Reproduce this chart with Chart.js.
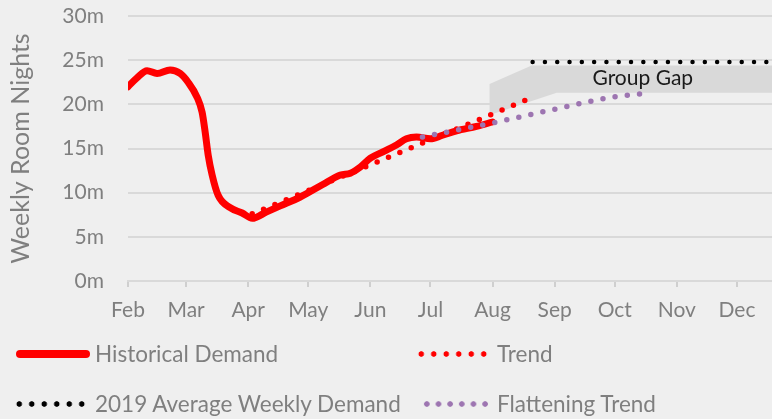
<!DOCTYPE html>
<html>
<head>
<meta charset="utf-8">
<script src="https://cdn.jsdelivr.net/npm/chart.js@4.4.1/dist/chart.umd.min.js"></script>
<style>
  html, body { margin: 0; padding: 0; }
  body { width: 772px; height: 419px; overflow: hidden; background: #efefef; font-family: Lato, sans-serif; }
  #wrap { position: relative; width: 772px; height: 419px; }
  #chart { position: absolute; left: 0; top: 0; }
  .sample { position: absolute; height: 8px; }
  .lgtext { position: absolute; height: 30px; line-height: 30px; font-size: 22.5px; color: #7f7f7f; white-space: nowrap; }
</style>
</head>
<body>
<div id="wrap">
  <canvas id="chart" width="772" height="419"></canvas>
  <div id="legend"></div>
</div>
<script>
// Weekly room nights, x = days since 1 Feb, y = millions

const monthLabels = ['Feb', 'Mar', 'Apr', 'May', 'Jun', 'Jul', 'Aug', 'Sep', 'Oct', 'Nov', 'Dec'];
const monthStartDays = [0, 29, 60, 90, 121, 151, 182, 213, 243, 274, 304];
const yTicks = [0, 5, 10, 15, 20, 25, 30];

const historicalDays = [0, 4.5, 9.5, 14.5, 21, 26, 30, 34.5, 37, 38.5, 40, 42, 45, 51, 57, 62, 69, 76, 86, 97, 106, 111, 116, 121, 127, 134, 139, 144, 151, 157, 164, 174, 182];
const historicalValues = [22.0, 23.0, 23.8, 23.5, 23.9, 23.5, 22.5, 20.8, 19.1, 16.9, 14.3, 12.0, 9.7, 8.3, 7.7, 7.1, 7.8, 8.5, 9.5, 10.9, 12.0, 12.2, 12.9, 13.9, 14.6, 15.4, 16.1, 16.3, 16.1, 16.5, 17.0, 17.5, 18.0];

const trendDays = [62, 201];
const trendValues = [7.6, 20.7];

const flatteningDays = [147, 184, 220, 232, 244, 257];
const flatteningValues = [16.3, 18.0, 19.8, 20.4, 20.9, 21.2];

const avg2019Days = [202, 322];
const avg2019Values = [24.8, 24.8];

// outline of the shaded "Group Gap" band, top edge then back along the bottom
const gapDays = [180.5, 201.5, 322, 322, 214, 180.5];
const gapValues = [22.3, 24.4, 24.4, 21.3, 21.3, 18.8];
const gapLabel = { text: 'Group Gap', day: 257, value: 23.0 };

const GREY_TEXT = '#7f7f7f';
const GRID = '#d9d9d9';

function pts(xs, ys) {
  return xs.map((x, i) => ({ x: x, y: ys[i] }));
}

const dotted = (color, width) => ({
  borderColor: color,
  borderWidth: width,
  borderDash: [0, 12.3],
  borderCapStyle: 'round',
  pointRadius: 0,
  fill: false,
  tension: 0
});

const datasets = [
  Object.assign({ label: 'Flattening Trend', data: pts(flatteningDays, flatteningValues), order: 0 },
    dotted('#9d75b1', 5.5), { cubicInterpolationMode: 'monotone' }),
  Object.assign({ label: 'Trend', data: pts(trendDays, trendValues), order: 1 }, dotted('#ff0000', 5.5)),
  {
    label: 'Historical Demand',
    data: pts(historicalDays, historicalValues),
    order: 2,
    borderColor: '#ff0000',
    borderWidth: 7,
    borderCapStyle: 'round',
    borderJoinStyle: 'round',
    pointRadius: 0,
    cubicInterpolationMode: 'monotone',
    fill: false
  },
  Object.assign({ label: '2019 Average Weekly Demand', data: pts(avg2019Days, avg2019Values), order: 3 }, dotted('#000000', 4.5)),
  {
    label: 'Group Gap',
    data: pts(gapDays, gapValues),
    order: 4,
    borderWidth: 0,
    borderColor: 'rgba(0,0,0,0)',
    backgroundColor: '#d9d9d9',
    pointRadius: 0,
    tension: 0,
    fill: 'shape'
  }
];

const gapLabelPlugin = {
  id: 'gapLabel',
  afterDatasetsDraw(chart) {
    const { ctx, scales } = chart;
    ctx.save();
    ctx.font = '21px Lato';
    ctx.fillStyle = '#1a1a1a';
    ctx.textAlign = 'center';
    ctx.textBaseline = 'middle';
    ctx.fillText(gapLabel.text, scales.x.getPixelForValue(gapLabel.day), scales.y.getPixelForValue(gapLabel.value));
    ctx.restore();
  }
};

const chart = new Chart(document.getElementById('chart'), {
  type: 'line',
  data: { datasets: datasets },
  plugins: [gapLabelPlugin],
  options: {
    responsive: false,
    animation: false,
    layout: { padding: { top: 16, left: 0, right: 0, bottom: 0 } },
    plugins: { legend: { display: false }, tooltip: { enabled: false } },
    scales: {
      x: {
        type: 'linear',
        min: 0,
        max: 321.5,
        afterBuildTicks: s => { s.ticks = monthStartDays.map(v => ({ value: v })); },
        afterFit: s => { s.height = 138; s.paddingLeft = 0; s.paddingRight = 0; },
        grid: { drawOnChartArea: false, drawTicks: true, tickLength: 6, color: '#cfcfcf', lineWidth: 2 },
        border: { display: true, color: GRID, width: 2 },
        ticks: {
          color: GREY_TEXT,
          font: { family: 'Lato', size: 21 },
          padding: 11,
          maxRotation: 0,
          autoSkip: false,
          callback: (v, i) => monthLabels[i]
        }
      },
      y: {
        min: 0,
        max: 30,
        afterBuildTicks: s => { s.ticks = yTicks.map(v => ({ value: v })); },
        afterFit: s => { s.width = 128; s.paddingTop = 0; s.paddingBottom = 0; },
        grid: { color: GRID, lineWidth: 2, drawTicks: false },
        border: { display: false },
        ticks: {
          color: GREY_TEXT,
          font: { family: 'Lato', size: 21 },
          padding: 24,
          callback: v => v + 'm'
        },
        title: {
          display: true,
          text: 'Weekly Room Nights',
          color: GREY_TEXT,
          font: { family: 'Lato', size: 25 },
          padding: { top: 6, bottom: 0 }
        }
      }
    }
  }
});

// HTML legend, two columns; samples drawn with CSS
const legendItems = [
  { label: 'Historical Demand', sampleLeft: 16, textLeft: 95, mid: 354, kind: 'solid', color: '#ff0000', width: 74 },
  { label: 'Trend', sampleLeft: 415, textLeft: 497, mid: 354, kind: 'dots', color: '#ff0000', width: 75 },
  { label: '2019 Average Weekly Demand', sampleLeft: 13, textLeft: 95, mid: 404, kind: 'dots', color: '#000000', width: 75 },
  { label: 'Flattening Trend', sampleLeft: 421, textLeft: 497, mid: 404, kind: 'dots', color: '#9d75b1', width: 70 }
];

const legendEl = document.getElementById('legend');
for (const item of legendItems) {
  const sample = document.createElement('div');
  sample.className = 'sample';
  sample.style.left = item.sampleLeft + 'px';
  sample.style.top = (item.mid - 4) + 'px';
  sample.style.width = item.width + 'px';
  if (item.kind === 'solid') {
    sample.style.background = item.color;
    sample.style.borderRadius = '4px';
  } else {
    sample.style.background = `radial-gradient(circle at center, ${item.color} 2.4px, rgba(0,0,0,0) 3.1px)`;
    sample.style.backgroundSize = (item.width / 6) + 'px 8px';
    sample.style.backgroundRepeat = 'repeat-x';
  }

  const text = document.createElement('div');
  text.className = 'lgtext';
  text.style.left = item.textLeft + 'px';
  text.style.top = (item.mid - 15) + 'px';
  text.textContent = item.label;

  legendEl.appendChild(sample);
  legendEl.appendChild(text);
}
</script>
</body>
</html>
